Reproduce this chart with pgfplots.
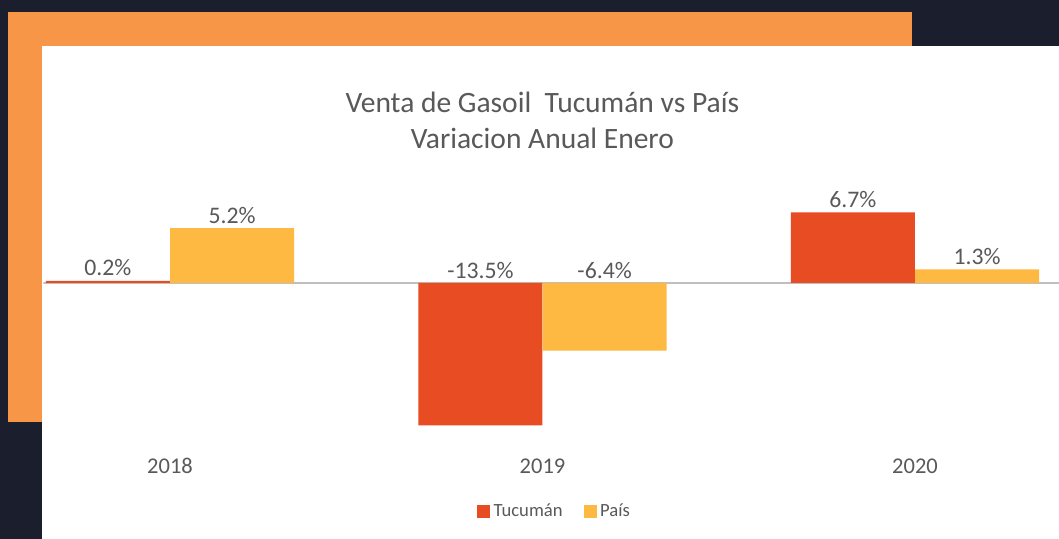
\documentclass[border=0pt]{standalone}
\usepackage{fontspec}
\setmainfont{Carlito}
\usepackage{pgfplots}
\pgfplotsset{compat=1.18}
\definecolor{darkbg}{HTML}{1B1E2C}
\definecolor{orangebg}{HTML}{F79646}
\definecolor{tucuman}{HTML}{E84C22}
\definecolor{pais}{HTML}{FDB942}
\definecolor{txt}{HTML}{595959}
\definecolor{zeroline}{HTML}{BFBFBF}

\begin{document}
\begin{tikzpicture}
% page frame: 1059 x 539 px at 0.02 cm per px
\useasboundingbox (0,0) rectangle (21.18,10.78);
\fill[darkbg] (0,0) rectangle (21.18,10.78);
\fill[orangebg] (0.16,2.34) rectangle (18.24,10.54);
\fill[white] (0.84,0) rectangle (21.18,9.86);

\begin{axis}[
  at={(0.867cm,2.166cm)}, anchor=south west,
  scale only axis,
  width=20.314cm, height=4.642cm,
  xmin=-0.34, xmax=2.3866,
  ymin=-14, ymax=8,
  axis line style={draw=none},
  tick style={draw=none},
  ytick=\empty,
  xtick={0,1,2},
  xticklabels={2018,2019,2020},
  xticklabel style={font=\fontsize{12.8}{15}\selectfont, text=txt, anchor=base, yshift=-0.86cm},
  title={Venta de Gasoil\ \ Tucumán vs País\\Variacion Anual Enero},
  title style={at={(axis description cs:0.4913,1.29)}, anchor=center, align=center,
    font=\fontsize{16.8}{20.6}\selectfont, text=txt},
  legend style={at={(axis description cs:0.504,-0.35)}, anchor=center, draw=none, fill=none,
    legend columns=2, font=\fontsize{10.6}{12.5}\selectfont, text=txt,
    /tikz/every even column/.append style={column sep=0.35cm}},
  legend image code/.code={\fill[#1] (0cm,-0.12cm) rectangle (0.26cm,0.14cm);},
  nodes near coords style={font=\fontsize{13.5}{16}\selectfont, text=txt, anchor=south, inner sep=2.5pt},
]
% zero line
\addplot[zeroline, line width=1.1pt, forget plot] coordinates {(-0.34,0) (2.3866,0)};
% bars
\addplot[ybar, bar width=0.333, bar shift=0pt, fill=tucuman, draw=none]
  coordinates {(-0.1667,0.2) (0.8333,-13.5) (1.8333,6.7)};
\addplot[ybar, bar width=0.333, bar shift=0pt, fill=pais, draw=none]
  coordinates {(0.1667,5.2) (1.1667,-6.4) (2.1667,1.3)};
% data labels (above bar top, or above zero line for negatives)
\addplot[draw=none, mark=none, forget plot, nodes near coords, point meta=explicit symbolic]
  coordinates {(-0.1667,0.2) [0.2\%] (0.8333,0) [-13.5\%] (1.8333,6.7) [6.7\%]};
\addplot[draw=none, mark=none, forget plot, nodes near coords, point meta=explicit symbolic]
  coordinates {(0.1667,5.2) [5.2\%] (1.1667,0) [-6.4\%] (2.1667,1.3) [1.3\%]};
\legend{Tucumán, País}
\end{axis}
\end{tikzpicture}
\end{document}
